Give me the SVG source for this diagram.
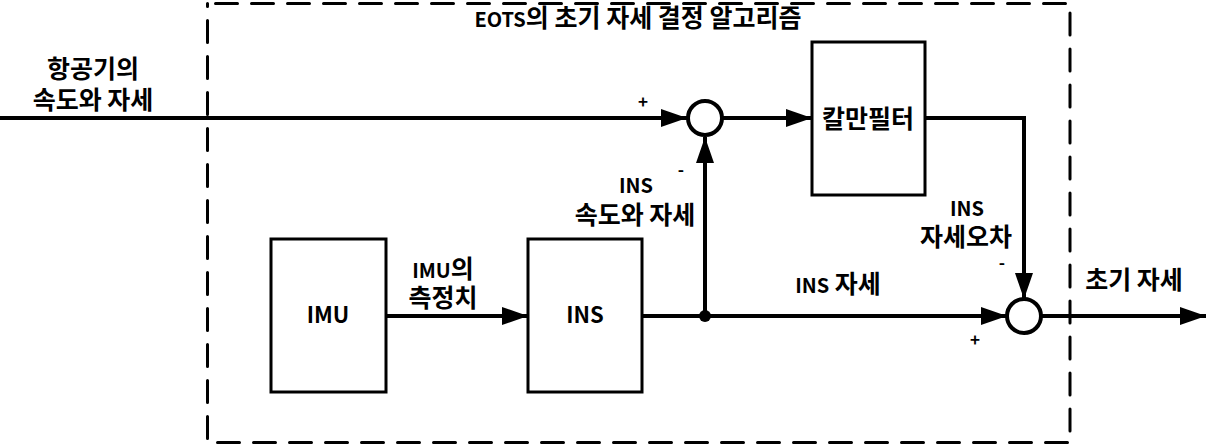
<svg xmlns="http://www.w3.org/2000/svg" width="1209" height="446" viewBox="0 0 1209 446">
<defs>
<marker id="arr" markerWidth="26" markerHeight="18" refX="26" refY="9" orient="auto" markerUnits="userSpaceOnUse">
<path d="M0,0 L26,9 L0,18 Z" fill="#000"/>
</marker>
<style>
text{font-family:"Noto Sans CJK KR","Liberation Sans",sans-serif;font-weight:700;fill:#000;text-anchor:middle}
.k{font-size:25px}
.l{font-size:20px}
.b{font-size:22px}
.s{font-size:17px}
.box{fill:#fff;stroke:#000;stroke-width:3}
.line{fill:none;stroke:#000;stroke-width:4}
.sum{fill:#fff;stroke:#000;stroke-width:4}
</style>
</defs>
<rect id="frame" x="207.5" y="3.5" width="862.5" height="439" fill="none" stroke="#000" stroke-width="3" stroke-dasharray="22 14" stroke-dashoffset="-8" stroke-linecap="round"/>
<text class="k" x="638" y="27"><tspan class="l">EOTS</tspan>의 초기 자세 결정 알고리즘</text>
<g id="connectors">
<line class="line" x1="0" y1="118" x2="687" y2="118" marker-end="url(#arr)"/>
<line class="line" x1="723" y1="118" x2="812" y2="118" marker-end="url(#arr)"/>
<polyline class="line" points="925,118 1024,118 1024,299" marker-end="url(#arr)"/>
<line class="line" x1="386" y1="316" x2="528" y2="316" marker-end="url(#arr)"/>
<line class="line" x1="642" y1="316" x2="1007" y2="316" marker-end="url(#arr)"/>
<line class="line" x1="705" y1="316" x2="705" y2="137" marker-end="url(#arr)"/>
<line class="line" x1="1041" y1="316" x2="1206" y2="316" marker-end="url(#arr)"/>
<circle cx="705" cy="316" r="6" fill="#000"/>
</g>
<g id="sum1"><circle class="sum" cx="705" cy="118" r="17"/></g>
<g id="sum2"><circle class="sum" cx="1024" cy="316" r="17"/></g>
<g id="kalman"><rect class="box" x="812" y="42" width="113" height="153"/><text class="k" x="868" y="128">칼만필터</text></g>
<g id="imu"><rect class="box" x="271" y="239" width="115" height="153"/><text class="b" x="328" y="323">IMU</text></g>
<g id="ins"><rect class="box" x="528" y="239" width="114" height="153"/><text class="b" x="585" y="323">INS</text></g>
<g id="labels">
<text class="k" x="93" y="78">항공기의</text>
<text class="k" x="93" y="109">속도와 자세</text>
<text class="s" x="643" y="108">+</text>
<text class="s" x="681" y="176">-</text>
<text class="l" x="636" y="193">INS</text>
<text class="k" x="635" y="224">속도와 자세</text>
<text class="k" x="443" y="278"><tspan class="l">IMU</tspan>의</text>
<text class="k" x="443" y="307">측정치</text>
<text class="k" x="838" y="293"><tspan class="l">INS</tspan> 자세</text>
<text class="l" x="967" y="216">INS</text>
<text class="k" x="966" y="246">자세오차</text>
<text class="s" x="1002" y="269">-</text>
<text class="s" x="975" y="346">+</text>
<text class="k" x="1134" y="289">초기 자세</text>
</g>
</svg>
